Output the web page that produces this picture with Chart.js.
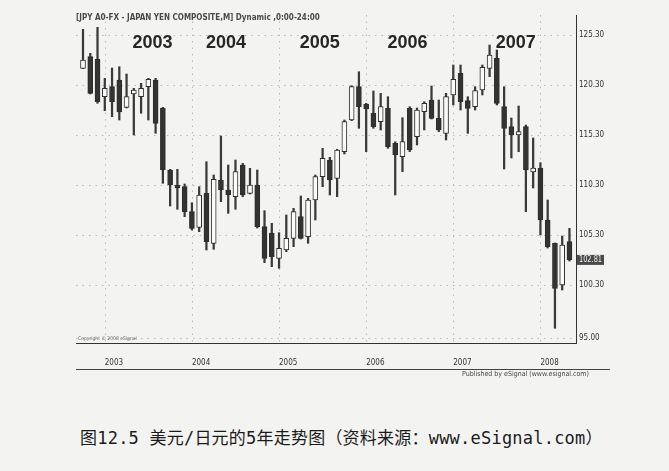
<!DOCTYPE html>
<html>
<head>
<meta charset="utf-8">
<script src="https://cdn.jsdelivr.net/npm/chart.js@4.4.1/dist/chart.umd.min.js"></script>
<style>
html,body{margin:0;padding:0;background:#f3f3f1;}
#wrap{position:relative;width:669px;height:471px;overflow:hidden;}
#c{position:absolute;left:0;top:0;}
#cap{position:absolute;left:80px;top:428px;font-size:17px;letter-spacing:0.22px;font-family:'DejaVu Sans Mono','Noto Sans CJK SC',sans-serif;color:#1b1b1b;white-space:nowrap;line-height:20px;}
</style>
</head>
<body>
<div id="wrap">
  <canvas id="c" width="669" height="390"></canvas>
  <div id="cap">图12.5 美元/日元的5年走势图（资料来源：www.eSignal.com）</div>
</div>
<script>
// USD/JPY monthly candles, Oct 2002 - May 2008
const months = ['2002-10','2002-11','2002-12',
  '2003-01','2003-02','2003-03','2003-04','2003-05','2003-06','2003-07','2003-08','2003-09','2003-10','2003-11','2003-12',
  '2004-01','2004-02','2004-03','2004-04','2004-05','2004-06','2004-07','2004-08','2004-09','2004-10','2004-11','2004-12',
  '2005-01','2005-02','2005-03','2005-04','2005-05','2005-06','2005-07','2005-08','2005-09','2005-10','2005-11','2005-12',
  '2006-01','2006-02','2006-03','2006-04','2006-05','2006-06','2006-07','2006-08','2006-09','2006-10','2006-11','2006-12',
  '2007-01','2007-02','2007-03','2007-04','2007-05','2007-06','2007-07','2007-08','2007-09','2007-10','2007-11','2007-12',
  '2008-01','2008-02','2008-03','2008-04','2008-05'];

const openP = [121.97,123.13,122.87,
  119.13,120.13,120.80,118.07,119.40,119.13,120.13,120.80,117.97,111.80,110.30,110.13,
  107.63,106.07,109.47,104.47,110.80,109.80,109.13,112.30,109.47,110.30,106.13,105.50,
  102.97,103.80,104.97,107.13,105.13,108.80,111.13,112.80,110.97,113.63,116.80,120.13,
  118.40,117.47,116.63,117.97,114.47,113.13,117.97,115.13,117.63,118.80,116.97,115.47,
  119.30,121.47,118.73,118.13,119.80,121.97,122.97,118.13,116.13,115.30,116.13,111.60,
  112.00,106.80,104.47,100.30,104.63];
const highP = [125.87,123.47,126.07,
  120.97,122.00,122.13,121.40,119.97,120.47,120.97,120.97,118.07,111.87,111.87,110.40,
  108.53,110.13,112.63,111.30,115.20,112.30,112.80,112.47,111.97,111.80,107.73,106.47,
  105.53,107.30,107.97,109.20,108.97,111.30,113.97,113.07,113.87,116.80,120.23,121.63,
  118.47,119.70,119.47,119.13,114.63,117.03,118.13,118.00,118.63,120.20,118.80,119.47,
  122.30,122.30,119.13,120.13,122.30,124.30,123.80,120.13,117.00,118.20,116.30,115.00,
  112.53,108.80,104.50,105.20,105.97];
const lowP = [121.95,119.40,118.47,
  117.73,117.13,116.80,118.00,115.30,117.47,116.80,115.47,110.47,108.20,107.87,107.13,
  105.80,105.63,103.80,103.87,108.63,107.47,107.87,109.13,109.40,106.00,102.53,102.13,
  101.97,103.63,104.13,104.90,104.47,106.80,110.13,109.30,109.13,113.40,116.73,115.97,
  113.63,115.97,115.80,113.97,109.30,111.63,113.63,114.30,115.80,116.90,115.63,114.80,
  118.30,117.80,115.47,117.80,119.30,121.13,118.30,111.90,113.00,113.63,107.63,110.00,
  105.30,104.00,95.97,99.80,102.70];
const closeP = [122.80,119.47,118.63,
  119.97,118.63,117.60,119.13,119.80,119.97,120.87,116.47,111.80,110.30,110.00,107.63,
  105.97,109.30,104.63,110.87,109.80,109.30,111.63,109.30,110.30,106.13,102.97,103.13,
  103.97,104.97,107.63,104.97,108.80,111.13,112.97,110.80,113.80,116.63,120.13,118.13,
  117.90,116.13,118.13,114.13,113.30,114.63,113.80,117.80,118.47,116.97,115.80,119.13,
  120.87,118.63,117.97,119.73,122.07,123.30,118.47,115.97,115.30,115.63,111.80,112.00,
  106.80,104.13,99.97,104.30,102.81];

// axis ticks
const yTicks = [95.0, 100.3, 105.3, 110.3, 115.3, 120.3, 125.3];
const yearTicks = [3, 15, 27, 39, 51, 63];
const yearLabels = ['2003','2004','2005','2006','2007','2008'];

// big year captions inside the plot
const noteText = ['2003','2004','2005','2006','2007'];
const noteX = [9.57, 19.7, 32.6, 44.7, 59.6];
const noteY = 124.5;

const title = '[JPY A0-FX - JAPAN YEN COMPOSITE,M] Dynamic ,0:00-24:00';
const copyright = 'Copyright \u00A9 2008 eSignal';
const publisher = 'Published by eSignal (www.esignal.com)';

const NARROW = "'Liberation Sans Narrow','DejaVu Sans Condensed',Arial,sans-serif";
const INK = '#2e2e2e';

const idx = months.map((m, i) => i);
const wickData = idx.map(i => ({x: i, y: [lowP[i], highP[i]]}));
const bodyData = idx.map(i => ({x: i, y: [openP[i], closeP[i]]}));
const bodyFill = idx.map(i => closeP[i] >= openP[i] ? '#fbfbfa' : '#333333');

const deco = {
  id: 'deco',
  beforeDatasetsDraw(chart){
    const {ctx, chartArea: a, scales: {x, y}} = chart;
    ctx.save();
    ctx.strokeStyle = '#b9b9b9'; ctx.lineWidth = 1; ctx.setLineDash([1.5, 5]);
    yTicks.forEach(v => {
      const py = Math.round(y.getPixelForValue(v)) + 0.5;
      ctx.beginPath(); ctx.moveTo(a.left, py); ctx.lineTo(a.right, py); ctx.stroke();
    });
    yearTicks.forEach(v => {
      const px = Math.round(x.getPixelForValue(v)) + 0.5;
      ctx.beginPath(); ctx.moveTo(px, a.top); ctx.lineTo(px, a.bottom); ctx.stroke();
    });
    ctx.restore();
  },
  afterDraw(chart){
    const {ctx, chartArea: a, scales: {x, y}} = chart;
    ctx.save();
    // header
    ctx.fillStyle = '#4a4a4a';
    ctx.font = 'bold 8px ' + NARROW;
    ctx.textBaseline = 'middle'; ctx.textAlign = 'left';
    ctx.fillText(title, 76, 18, 251);
    // year captions
    ctx.fillStyle = '#262626';
    ctx.font = 'bold 18px "Liberation Sans",Arial,sans-serif';
    ctx.textAlign = 'center';
    noteText.forEach((t, i) => ctx.fillText(t, x.getPixelForValue(noteX[i]), y.getPixelForValue(noteY)));
    // copyright
    ctx.fillStyle = '#666';
    ctx.font = '5px ' + NARROW;
    ctx.textAlign = 'left';
    ctx.fillText(copyright, 78, a.bottom - 4, 64);
    // line under the date row
    ctx.strokeStyle = '#444'; ctx.lineWidth = 1;
    ctx.beginPath(); ctx.moveTo(a.left, 369.5); ctx.lineTo(610, 369.5); ctx.stroke();
    // publisher
    ctx.fillStyle = '#444';
    ctx.font = '7px ' + NARROW;
    ctx.fillText(publisher, 462, 374, 137);
    // last price box
    const last = closeP[closeP.length - 1];
    const py = y.getPixelForValue(last);
    ctx.fillStyle = '#4a4a4a';
    ctx.fillRect(a.right + 1, py - 5, 27, 10);
    ctx.fillStyle = '#eee';
    ctx.font = '8px ' + NARROW;
    ctx.fillText(last.toFixed(2), a.right + 3, py, 23);
    ctx.restore();
  }
};

new Chart(document.getElementById('c'), {
  type: 'bar',
  data: {
    datasets: [
      { data: bodyData, order: 0, grouped: false, barThickness: 5,
        backgroundColor: bodyFill, borderColor: INK, borderWidth: 1, borderSkipped: false },
      { data: wickData, order: 1, grouped: false, barThickness: 1.6,
        backgroundColor: '#3a3a3a', borderWidth: 0 }
    ]
  },
  options: {
    responsive: false,
    animation: false,
    layout: { padding: { left: 76, top: 15, right: 0, bottom: 0 } },
    plugins: { legend: { display: false }, tooltip: { enabled: false } },
    scales: {
      x: {
        type: 'linear', min: -0.964, max: 67.9, offset: false,
        grid: { display: false, drawTicks: false },
        border: { display: true, color: '#333', width: 1 },
        afterBuildTicks: s => { s.ticks = yearTicks.map(v => ({value: v})); },
        afterFit: s => { s.height = 47; },
        ticks: { autoSkip: false, maxRotation: 0, align: 'start', padding: 15, color: '#333',
          font: { family: NARROW, size: 8 },
          callback: v => yearLabels[yearTicks.indexOf(v)] }
      },
      y: {
        position: 'right', min: 94.5, max: 127.3,
        grid: { display: false, drawTicks: false },
        border: { display: true, color: '#333', width: 1 },
        afterBuildTicks: s => { s.ticks = yTicks.map(v => ({value: v})); },
        afterFit: s => { s.width = 93; },
        ticks: { padding: 3, color: '#333', font: { family: NARROW, size: 8 },
          callback: v => v.toFixed(2) }
      }
    }
  },
  plugins: [deco]
});
</script>
</body>
</html>
